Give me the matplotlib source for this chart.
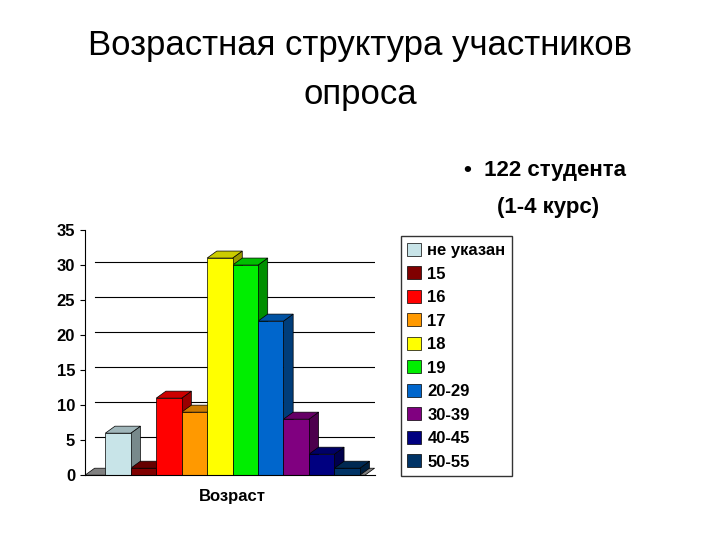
import matplotlib.pyplot as plt
from matplotlib.patches import Polygon, Patch

plt.rcParams['font.family'] = ['Liberation Sans', 'DejaVu Sans']

labels = ['не указан', '15', '16', '17', '18', '19', '20-29', '30-39', '40-45', '50-55']
values = [6, 1, 11, 9, 31, 30, 22, 8, 3, 1]
colors = ['#c8e4e8', '#800000', '#ff0000', '#ff9900', '#ffff00', '#00ee00',
          '#0066cc', '#800080', '#000080', '#003366']
DX, DY = 0.38, 1.0


def darker(c, f):
    import matplotlib.colors as mc
    r, g, b = mc.to_rgb(c)
    return (r * f, g * f, b * f)


def main():
    fig = plt.figure(figsize=(7.2, 5.4), dpi=100)
    fig.text(0.5, 0.915, 'Возрастная структура участников', ha='center', va='center', fontsize=25)
    fig.text(0.5, 0.825, 'опроса', ha='center', va='center', fontsize=25)
    fig.text(0.645, 0.685, '•  122 студента', fontsize=16, fontweight='bold', va='center')
    fig.text(0.69, 0.615, '(1-4 курс)', fontsize=16, fontweight='bold', va='center')

    ax = fig.add_axes([0.118, 0.12, 0.403, 0.454])
    xs = [i + 0.5 for i in range(len(values))]
    ax.set_xlim(-0.8, 10.6)
    ax.set_ylim(0, 35)
    for y in range(5, 36, 5):
        ax.plot([-0.8 + DX, 10.6], [y + DY * 0.4, y + DY * 0.4], color='black', lw=0.8, zorder=0)
    # floor
    ax.add_patch(Polygon([(-0.8, 0), (10.2, 0), (10.2 + DX, DY), (-0.8 + DX, DY)],
                         closed=True, facecolor='#808080', edgecolor='black', lw=0.5, zorder=0.5))
    bars = ax.bar(xs, values, width=1.0, color=colors, edgecolor='black', lw=0.5, zorder=2)
    for b, c in zip(bars, colors):
        x0, x1, h = b.get_x(), b.get_x() + b.get_width(), b.get_height()
        ax.add_patch(Polygon([(x1, 0), (x1 + DX, DY), (x1 + DX, h + DY), (x1, h)],
                             facecolor=darker(c, 0.6), edgecolor='black', lw=0.5, zorder=1.5))
        ax.add_patch(Polygon([(x0, h), (x0 + DX, h + DY), (x1 + DX, h + DY), (x1, h)],
                             facecolor=darker(c, 0.8), edgecolor='black', lw=0.5, zorder=1.5))
    ax.set_yticks(range(0, 36, 5))
    ax.set_yticklabels([str(v) for v in range(0, 36, 5)], fontsize=12, fontweight='bold')
    ax.set_xticks([5])
    ax.set_xticklabels(['Возраст'], fontsize=12, fontweight='bold')
    ax.tick_params(axis='x', length=0, pad=10)
    for s in ['top', 'right']:
        ax.spines[s].set_visible(False)

    handles = [Patch(facecolor=c, edgecolor='black', lw=0.5) for c in colors]
    leg = fig.legend(handles, labels, loc='upper left', bbox_to_anchor=(0.545, 0.578),
                     prop={'size': 12, 'weight': 'bold'}, fancybox=False, labelspacing=0.5,
                     handlelength=0.8, handleheight=0.8, handletextpad=0.4, borderpad=0.4)
    leg.get_frame().set_edgecolor('black')
    fig.savefig('out.png')


if __name__ == "__main__":
    main()
